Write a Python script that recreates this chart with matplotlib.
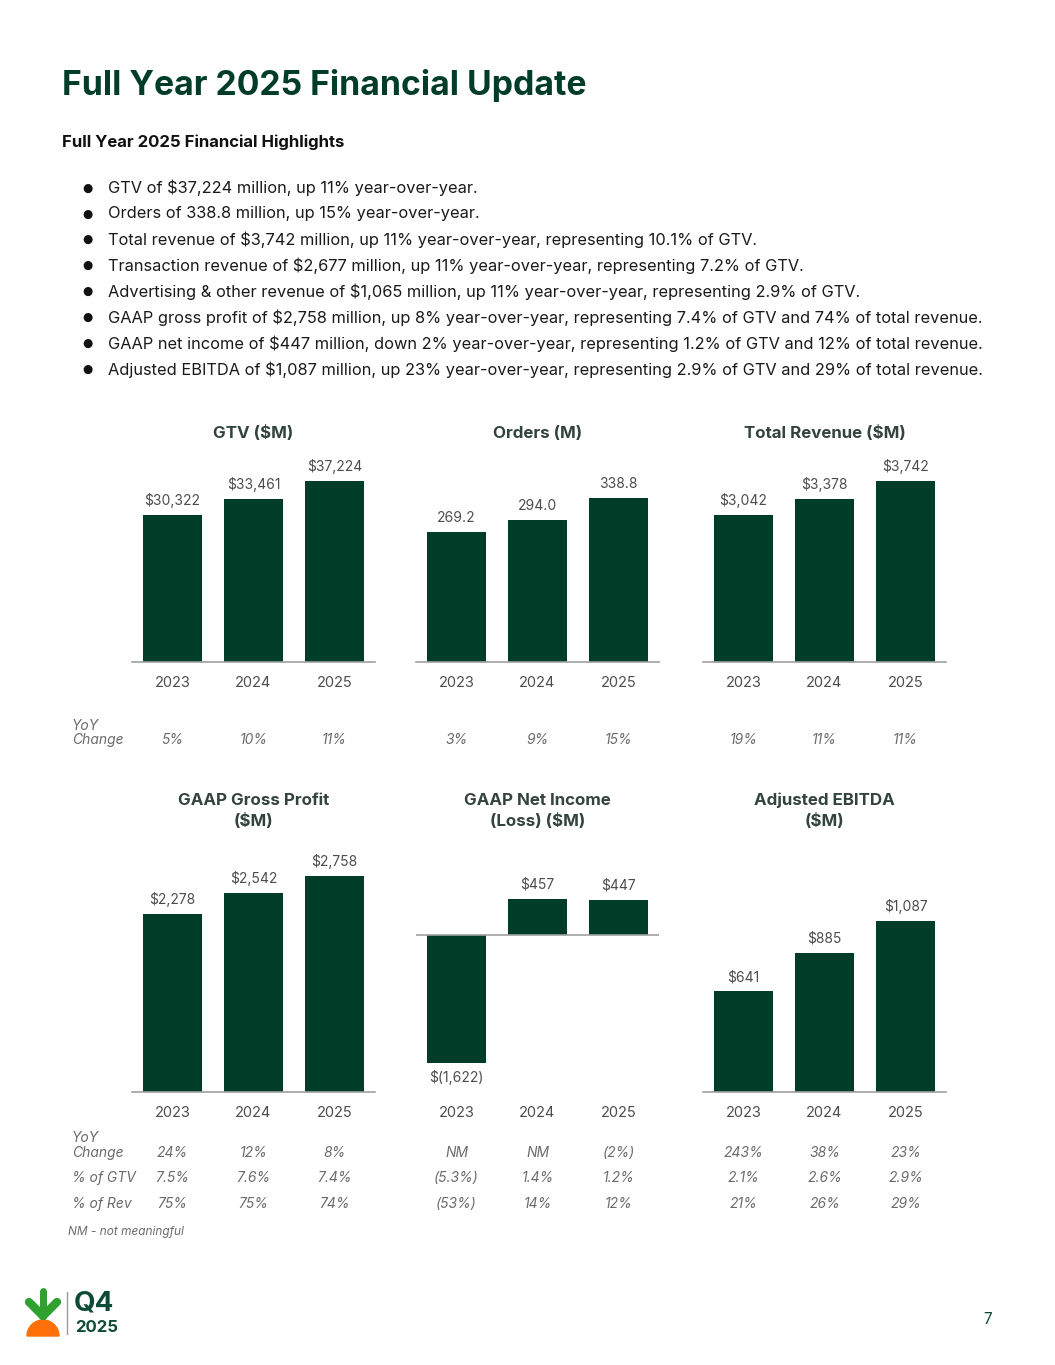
import matplotlib
matplotlib.use("Agg")
import matplotlib.pyplot as plt
import matplotlib.transforms as mtransforms
from matplotlib.patches import Wedge

plt.rcParams['font.family'] = ['Inter', 'DejaVu Sans']

W, H = 1055, 1365
DARK = "#003d29"
GRAY = "#4d4d4d"
LIGHT = "#6b6b6b"

years = ["2023", "2024", "2025"]

gtv = [30322, 33461, 37224]
orders = [269.2, 294.0, 338.8]
revenue = [3042, 3378, 3742]
gross_profit = [2278, 2542, 2758]
net_income = [-1622, 457, 447]
ebitda = [641, 885, 1087]

gtv_labels = ["$30,322", "$33,461", "$37,224"]
orders_labels = ["269.2", "294.0", "338.8"]
revenue_labels = ["$3,042", "$3,378", "$3,742"]
gp_labels = ["$2,278", "$2,542", "$2,758"]
ni_labels = ["$(1,622)", "$457", "$447"]
ebitda_labels = ["$641", "$885", "$1,087"]

gtv_yoy = ["5%", "10%", "11%"]
orders_yoy = ["3%", "9%", "15%"]
revenue_yoy = ["19%", "11%", "11%"]
gp_yoy = ["24%", "12%", "8%"]
ni_yoy = ["NM", "NM", "(2%)"]
ebitda_yoy = ["243%", "38%", "23%"]
gp_pct_gtv = ["7.5%", "7.6%", "7.4%"]
ni_pct_gtv = ["(5.3%)", "1.4%", "1.2%"]
ebitda_pct_gtv = ["2.1%", "2.6%", "2.9%"]
gp_pct_rev = ["75%", "75%", "74%"]
ni_pct_rev = ["(53%)", "14%", "12%"]
ebitda_pct_rev = ["21%", "26%", "29%"]

highlights = [
    "GTV of $37,224 million, up 11% year-over-year.",
    "Orders of 338.8 million, up 15% year-over-year.",
    "Total revenue of $3,742 million, up 11% year-over-year, representing 10.1% of GTV.",
    "Transaction revenue of $2,677 million, up 11% year-over-year, representing 7.2% of GTV.",
    "Advertising & other revenue of $1,065 million, up 11% year-over-year, representing 2.9% of GTV.",
    "GAAP gross profit of $2,758 million, up 8% year-over-year, representing 7.4% of GTV and 74% of total revenue.",
    "GAAP net income of $447 million, down 2% year-over-year, representing 1.2% of GTV and 12% of total revenue.",
    "Adjusted EBITDA of $1,087 million, up 23% year-over-year, representing 2.9% of GTV and 29% of total revenue.",
]

fig = plt.figure(figsize=(W / 100, H / 100), dpi=100)


def fy(py):
    return 1 - py / H


def fx(px):
    return px / W


def px_axes(left, top, width, height):
    return fig.add_axes([fx(left), fy(top + height), width / W, height / H])


# header
fig.text(fx(62), fy(85), "Full Year 2025 Financial Update", fontsize=24.3, fontweight="bold",
         color=DARK, va="center")
fig.text(fx(62), fy(142), "Full Year 2025 Financial Highlights", fontsize=12,
         fontweight="bold", color="#111111", va="center")
for i, line in enumerate(highlights):
    y = 188 + i * 25.9
    fig.text(fx(82), fy(y), "\u25CF", fontsize=8.5, color="#111111", va="center",
             family="DejaVu Sans")
    fig.text(fx(108), fy(y), line, fontsize=11.8, color="#1a1a1a", va="center")


def panel(left, top, height, vals, labels, ylim, title, title_y):
    ax = px_axes(left, top, 243, height)
    x = range(len(vals))
    ax.bar(x, vals, width=0.74, color=DARK, zorder=2)
    ax.set_xlim(-0.5, 2.5)
    ax.set_ylim(*ylim)
    for s in ["top", "right", "left"]:
        ax.spines[s].set_visible(False)
    ax.set_yticks([])
    ax.set_xticks(list(x))
    ax.set_xticklabels(years, fontsize=10.5, color=GRAY)
    ax.tick_params(axis="x", length=0, pad=10)
    if ylim[0] < 0:
        ax.spines["bottom"].set_visible(False)
        ax.axhline(0, color="#a0a0a0", lw=1.2, zorder=3)
    else:
        ax.spines["bottom"].set_color("#a0a0a0")
        ax.spines["bottom"].set_linewidth(1.2)
    for xi, v, lab in zip(x, vals, labels):
        if v >= 0:
            ax.annotate(lab, (xi, v), xytext=(0, 5), textcoords="offset points",
                        ha="center", va="bottom", fontsize=10, color=GRAY)
        else:
            ax.annotate(lab, (xi, v), xytext=(0, -5), textcoords="offset points",
                        ha="center", va="top", fontsize=10, color=GRAY)
    fig.text(fx(left + 121.5), fy(title_y), title, fontsize=12.2, fontweight="bold",
             color="#33433d", ha="center", va="center", linespacing=1.4)
    return ax


def row_values(ax, values, y):
    tr = mtransforms.blended_transform_factory(ax.transData, fig.transFigure)
    for xi, v in enumerate(values):
        ax.text(xi, fy(y), v, transform=tr, ha="center", va="center", fontsize=10,
                style="italic", color=LIGHT)


cols = [132, 416, 703]

a1 = panel(cols[0], 440, 222, gtv, gtv_labels, (0, 45650), "GTV ($M)", 433)
a2 = panel(cols[1], 440, 222, orders, orders_labels, (0, 458.6), "Orders (M)", 433)
a3 = panel(cols[2], 440, 222, revenue, revenue_labels, (0, 4590), "Total Revenue ($M)", 433)

b1 = panel(cols[0], 850, 242, gross_profit, gp_labels, (0, 3090),
           "GAAP Gross Profit\n($M)", 811)
b2 = panel(cols[1], 850, 242, net_income, ni_labels, (-1990, 1077),
           "GAAP Net Income\n(Loss) ($M)", 811)
b3 = panel(cols[2], 850, 242, ebitda, ebitda_labels, (0, 1538),
           "Adjusted EBITDA\n($M)", 811)

# metrics under the charts
lab_kw = dict(fontsize=10, style="italic", color=LIGHT, va="center")
fig.text(fx(72), fy(726), "YoY", **lab_kw)
fig.text(fx(72), fy(740), "Change", **lab_kw)
row_values(a1, gtv_yoy, 740)
row_values(a2, orders_yoy, 740)
row_values(a3, revenue_yoy, 740)

fig.text(fx(72), fy(1138), "YoY", **lab_kw)
fig.text(fx(72), fy(1153), "Change", **lab_kw)
fig.text(fx(72), fy(1178), "% of GTV", **lab_kw)
fig.text(fx(72), fy(1204), "% of Rev", **lab_kw)
row_values(b1, gp_yoy, 1153)
row_values(b2, ni_yoy, 1153)
row_values(b3, ebitda_yoy, 1153)
row_values(b1, gp_pct_gtv, 1178)
row_values(b2, ni_pct_gtv, 1178)
row_values(b3, ebitda_pct_gtv, 1178)
row_values(b1, gp_pct_rev, 1204)
row_values(b2, ni_pct_rev, 1204)
row_values(b3, ebitda_pct_rev, 1204)
fig.text(fx(68), fy(1232), "NM - not meaningful", fontsize=8.5, style="italic",
         color=LIGHT, va="center")

# footer logo
deco = fig.add_axes([0, 0, 1, 1], zorder=-1)
deco.set_xlim(0, W)
deco.set_ylim(H, 0)
deco.axis("off")
deco.add_patch(Wedge((43, 1336), 16, 180, 360, color="#ff7009"))
green = "#2ea12f"
deco.plot([43, 43], [1291, 1316], color=green, lw=5, solid_capstyle="round")
deco.plot([29, 43], [1302, 1316], color=green, lw=6, solid_capstyle="round")
deco.plot([57, 43], [1302, 1316], color=green, lw=6, solid_capstyle="round")
deco.plot([67, 67], [1292, 1334], color="#9a9a9a", lw=1)
fig.text(fx(74), fy(1303), "Q4", fontsize=20, fontweight="bold", color="#0e4a35",
         va="center")
fig.text(fx(75), fy(1328), "2025", fontsize=12, fontweight="bold", color="#0e4a35",
         va="center")
fig.text(fx(988), fy(1319), "7", fontsize=11, color="#0e4a35", ha="center", va="center")

fig.savefig("out.png", dpi=100)
